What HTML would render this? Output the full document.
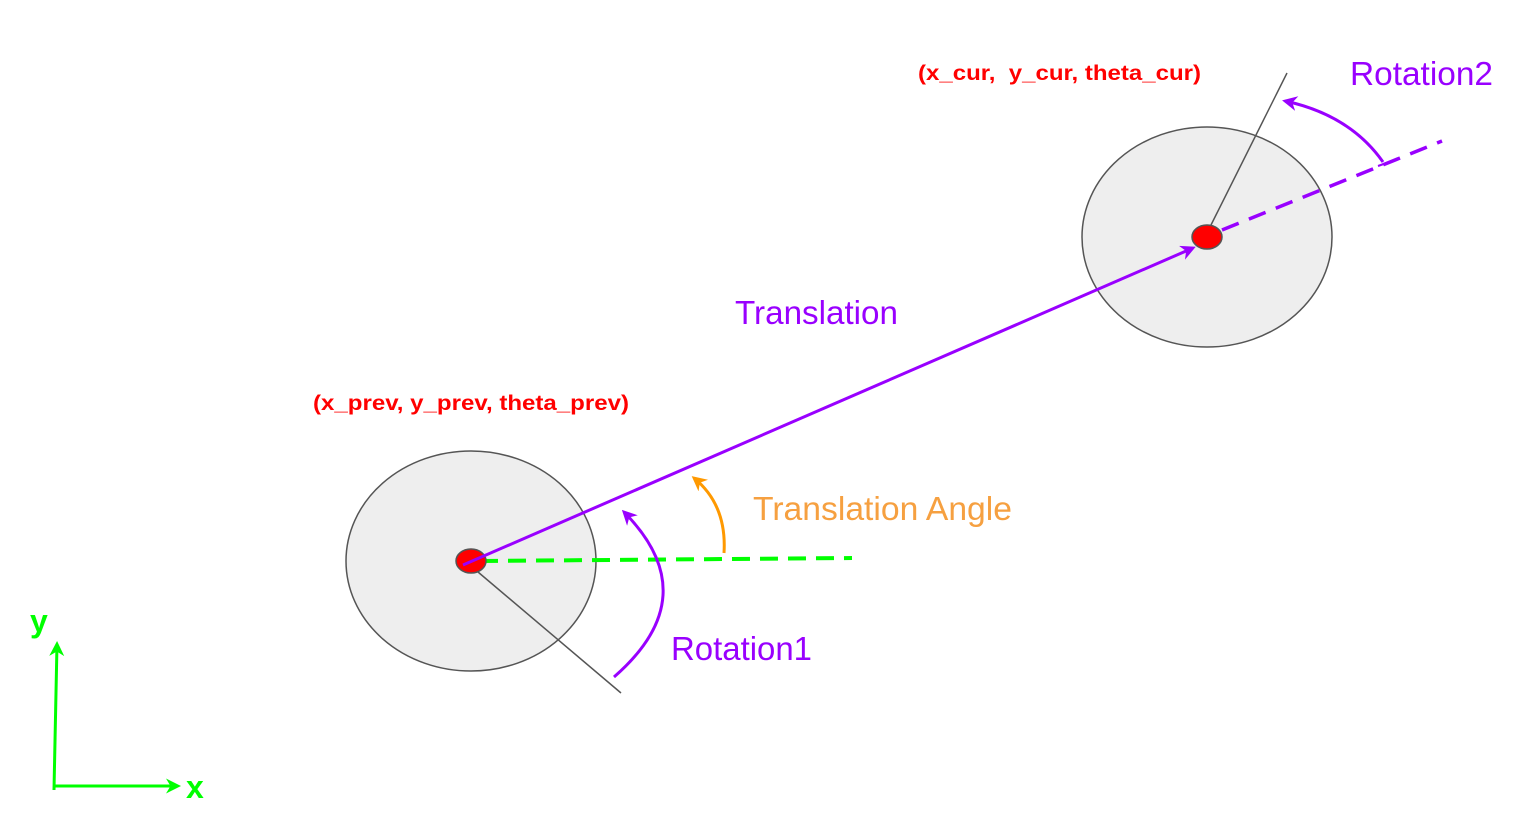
<!DOCTYPE html>
<html><head><meta charset="utf-8"><style>
html,body{margin:0;padding:0;background:#fff;width:1529px;height:832px;overflow:hidden}
svg{display:block}
text{font-family:"Liberation Sans",Arial,sans-serif}
</style></head><body>
<svg width="1529" height="832" viewBox="0 0 1529 832">
<defs>
<marker id="ap" viewBox="0 0 10 10" refX="8" refY="5" markerWidth="5" markerHeight="5" orient="auto"><path d="M0,0 L10,5 L0,10 L3,5z" fill="#9900ff"/></marker>
<marker id="ao" viewBox="0 0 10 10" refX="8" refY="5" markerWidth="5" markerHeight="5" orient="auto"><path d="M0,0 L10,5 L0,10 L3,5z" fill="#ff9900"/></marker>
<marker id="ag" viewBox="0 0 10 10" refX="8" refY="5" markerWidth="5" markerHeight="5" orient="auto"><path d="M0,0 L10,5 L0,10 L3,5z" fill="#00ff00"/></marker>
</defs>
<g>
<ellipse cx="471" cy="561" rx="125" ry="110" fill="#eeeeee" stroke="#555" stroke-width="1.5"/>
<line x1="478" y1="572" x2="621" y2="693" stroke="#555" stroke-width="1.5"/>
</g>
<g>
<ellipse cx="1207" cy="237" rx="125" ry="110" fill="#eeeeee" stroke="#555" stroke-width="1.5"/>
<line x1="1211" y1="225" x2="1287" y2="73" stroke="#555" stroke-width="1.5"/>
</g>
<line x1="480" y1="561" x2="852" y2="558" stroke="#00ff00" stroke-width="4" stroke-dasharray="18,10"/>
<line x1="1222" y1="230" x2="1442" y2="141" stroke="#9900ff" stroke-width="3.5" stroke-dasharray="18,11"/>
<ellipse cx="471" cy="561" rx="15" ry="12" fill="#ff0000" stroke="#555" stroke-width="1.5"/>
<ellipse cx="1207" cy="237" rx="15" ry="12" fill="#ff0000" stroke="#555" stroke-width="1.5"/>
<line x1="463" y1="565" x2="1193" y2="248" stroke="#9900ff" stroke-width="3" marker-end="url(#ap)"/>
<path d="M614,677 Q707,596 624,512" fill="none" stroke="#9900ff" stroke-width="3" marker-end="url(#ap)"/>
<path d="M724,553 Q727,505 694,478" fill="none" stroke="#ff9900" stroke-width="3" marker-end="url(#ao)"/>
<path d="M1383,162 Q1350,115 1285,101" fill="none" stroke="#9900ff" stroke-width="3" marker-end="url(#ap)"/>
<line x1="1378" y1="166" x2="1392" y2="161" stroke="#9900ff" stroke-width="2"/>
<g>
<line x1="54" y1="790" x2="57" y2="644" stroke="#00ff00" stroke-width="3" marker-end="url(#ag)"/>
<line x1="54" y1="786" x2="178" y2="786" stroke="#00ff00" stroke-width="3" marker-end="url(#ag)"/>
<text x="30" y="632" font-size="32" font-weight="bold" fill="#00ff00">y</text>
<text x="186" y="798" font-size="32" font-weight="bold" fill="#00ff00">x</text>
</g>
<text x="918" y="80" font-size="21" font-weight="bold" fill="#ff0000" xml:space="preserve" textLength="283" lengthAdjust="spacingAndGlyphs">(x_cur,  y_cur, theta_cur)</text>
<text x="313" y="410" font-size="21" font-weight="bold" fill="#ff0000" textLength="316" lengthAdjust="spacingAndGlyphs">(x_prev, y_prev, theta_prev)</text>
<text x="735" y="324" font-size="33" fill="#9900ff" textLength="163" lengthAdjust="spacingAndGlyphs">Translation</text>
<text x="1350" y="85" font-size="33" fill="#9900ff" textLength="143" lengthAdjust="spacingAndGlyphs">Rotation2</text>
<text x="753" y="520" font-size="33" fill="#f6a040" textLength="259" lengthAdjust="spacingAndGlyphs">Translation Angle</text>
<text x="671" y="660" font-size="33" fill="#9900ff" textLength="141" lengthAdjust="spacingAndGlyphs">Rotation1</text>
</svg>
</body></html>
